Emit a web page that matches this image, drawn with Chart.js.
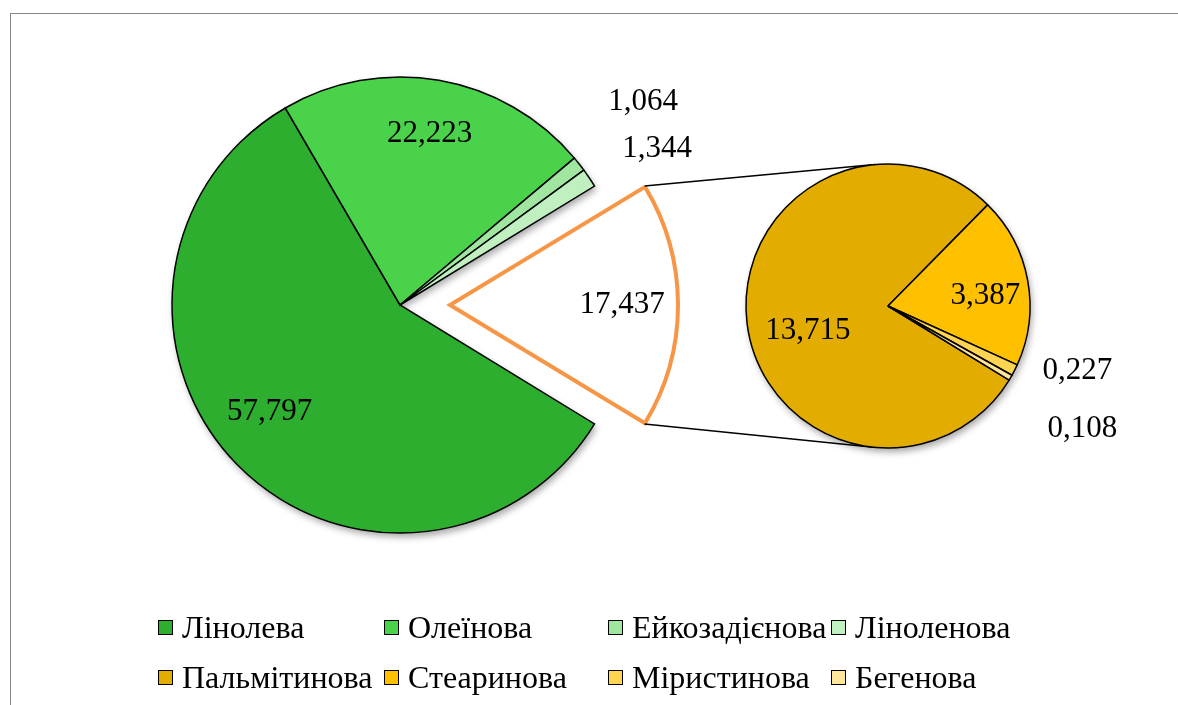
<!DOCTYPE html>
<html>
<head>
<meta charset="utf-8">
<script src="https://cdn.jsdelivr.net/npm/chart.js@4/dist/chart.umd.min.js"></script>
<style>
html, body { margin: 0; padding: 0; background: #fff; }
#wrap { position: relative; width: 1178px; height: 705px; overflow: hidden; }
#frame { position: absolute; left: 10px; top: 13px; width: 1220px; height: 740px; border: 1px solid #868686; }
#wrap canvas { position: absolute; left: 0; top: 0; }
#legend { position: absolute; left: 158px; top: 609px; display: grid;
  grid-template-columns: 226px 224px 223px 224px; row-gap: 14px;
  font-family: "Liberation Serif", "Times New Roman", serif; font-size: 32px; color: #000; }
.item { display: flex; align-items: center; height: 36px; white-space: nowrap; }
.box { width: 13px; height: 13px; border: 1.5px solid #000; margin-right: 9px; flex: none; }
</style>
</head>
<body>
<div id="wrap">
  <div id="frame"></div>
  <canvas id="mainPie" width="1178" height="705"></canvas>
  <canvas id="subPie" width="1178" height="705"></canvas>
  <div id="legend"></div>
</div>
<script>
// головна діаграма (жирні кислоти, %)
const mainLabels = ['Лінолева', 'Олеїнова', 'Ейкозадієнова', 'Ліноленова'];
const mainValues = [57.797, 22.223, 1.064, 1.344];
const otherLabel = 'Насичені';
const otherValue = 17.437;
// вторинна діаграма (розклад "інших")
const subLabels = ['Пальмітинова', 'Стеаринова', 'Міристинова', 'Бегенова'];
const subValues = [13.715, 3.387, 0.227, 0.108];

const mainColors = ['#2eae2e', '#4bd24b', '#a0e6a0', '#c0f0c0'];
const subColors = ['#e3ac00', '#ffc000', '#ffd450', '#ffe699'];
const otherBorder = '#f79646';
const explode = 200; // chart.js shifts arc by offset/4

// положення підписів: частка радіуса та поправка кута (град.)
const mainLabelDist = [0.74, 0.76, 1.39, 1.32, 0.755];
const mainLabelTurn = [5, 0, -1.7, 2.5, 0];
const subLabelDist = [0.59, 0.69, 1.41, 1.62];
const subLabelTurn = [-10, 4.7, -8, 2];

const serif = '"Liberation Serif", "Times New Roman", serif';
const total = mainValues.reduce((a, b) => a + b, 0) + otherValue;
const startRot = 90 + otherValue / total * 180;

function fmt(v) { return v.toFixed(3).replace('.', ','); }

// chart.js збільшує радіус винесеного сектора на offset/4 * (1 - sin(кут)); компенсуємо
function radiusGrow(arc) {
  return explode / 4 * (1 - Math.sin(Math.min(Math.PI, arc.circumference)));
}
const explodeFix = {
  id: 'explodeFix',
  afterDatasetsUpdate(chart) {
    const arc = chart.getDatasetMeta(0).data[mainValues.length];
    arc.outerRadius -= radiusGrow(arc);
  }
};

function labelPlugin(dist, turn) {
  return {
    id: 'valueLabels',
    afterDatasetsDraw(chart) {
      const ctx = chart.ctx;
      const ds = chart.data.datasets[0];
      const R = chart.getDatasetMeta(0).data[0].outerRadius;
      ctx.save();
      ctx.font = '31px ' + serif;
      ctx.fillStyle = '#000';
      ctx.textAlign = 'center';
      ctx.textBaseline = 'middle';
      chart.getDatasetMeta(0).data.forEach((arc, i) => {
        const mid = (arc.startAngle + arc.endAngle) / 2;
        const off = (Array.isArray(ds.offset) ? ds.offset[i] : 0) / 4;
        const cx = arc.x + Math.cos(mid) * off;
        const cy = arc.y + Math.sin(mid) * off;
        const a = mid + turn[i] * Math.PI / 180;
        const r = R * dist[i];
        ctx.fillText(fmt(ds.data[i]), cx + Math.cos(a) * r, cy + Math.sin(a) * r);
      });
      ctx.restore();
    }
  };
}

// тінь під секторами (крім винесеного)
const shadowPlugin = {
  id: 'shadow',
  beforeDatasetsDraw(chart) {
    const ctx = chart.ctx;
    const ds = chart.data.datasets[0];
    ctx.save();
    ctx.shadowColor = 'rgba(0,0,0,0.35)';
    ctx.shadowBlur = 7;
    ctx.shadowOffsetX = 2;
    ctx.shadowOffsetY = 4;
    chart.getDatasetMeta(0).data.forEach((arc, i) => {
      if (ds.backgroundColor[i] === '#ffffff') return;
      ctx.beginPath();
      ctx.moveTo(arc.x, arc.y);
      ctx.arc(arc.x, arc.y, arc.outerRadius, arc.startAngle, arc.endAngle);
      ctx.closePath();
      ctx.fillStyle = '#fff';
      ctx.fill();
    });
    ctx.restore();
  }
};

const mainChart = new Chart(document.getElementById('mainPie'), {
  type: 'pie',
  data: {
    labels: [...mainLabels, otherLabel],
    datasets: [{
      data: [...mainValues, otherValue],
      backgroundColor: [...mainColors, '#ffffff'],
      borderColor: ['#000', '#000', '#000', '#000', otherBorder],
      borderWidth: [1.5, 1.5, 1.5, 1.5, 4],
      borderJoinStyle: 'miter',
      offset: [0, 0, 0, 0, explode],
      hoverOffset: 0
    }]
  },
  options: {
    responsive: false,
    animation: false,
    events: [],
    devicePixelRatio: 1,
    rotation: startRot,
    radius: 228,
    layout: { padding: { left: 150, right: 528, top: 55, bottom: 150 } },
    plugins: { legend: { display: false }, tooltip: { enabled: false } }
  },
  plugins: [explodeFix, shadowPlugin, labelPlugin(mainLabelDist, mainLabelTurn)]
});

// лінії від винесеного сектора до вторинної діаграми (дотичні)
const connectorPlugin = {
  id: 'connectors',
  beforeDatasetsDraw(chart) {
    const src = mainChart.getDatasetMeta(0).data[mainValues.length];
    const mid = (src.startAngle + src.endAngle) / 2;
    const sx = src.x + Math.cos(mid) * explode / 4;
    const sy = src.y + Math.sin(mid) * explode / 4;
    const R = src.outerRadius + radiusGrow(src);
    const pts = [
      [sx + Math.cos(src.startAngle) * R, sy + Math.sin(src.startAngle) * R],
      [sx + Math.cos(src.endAngle) * R, sy + Math.sin(src.endAngle) * R]
    ];
    const t = chart.getDatasetMeta(0).data[0];
    const ctx = chart.ctx;
    ctx.save();
    ctx.strokeStyle = '#000';
    ctx.lineWidth = 1.5;
    pts.forEach((p, k) => {
      const dx = p[0] - t.x, dy = p[1] - t.y;
      const d = Math.hypot(dx, dy);
      const base = Math.atan2(dy, dx);
      const a = Math.acos(t.outerRadius / d);
      const c1 = base + a, c2 = base - a;
      const y1 = t.y + Math.sin(c1) * t.outerRadius;
      const y2 = t.y + Math.sin(c2) * t.outerRadius;
      const ang = (k === 0) === (y1 < y2) ? c1 : c2;
      ctx.beginPath();
      ctx.moveTo(p[0], p[1]);
      ctx.lineTo(t.x + Math.cos(ang) * t.outerRadius, t.y + Math.sin(ang) * t.outerRadius);
      ctx.stroke();
    });
    ctx.restore();
  }
};

new Chart(document.getElementById('subPie'), {
  type: 'pie',
  data: {
    labels: subLabels,
    datasets: [{
      data: subValues,
      backgroundColor: subColors,
      borderColor: '#000',
      borderWidth: 1.5,
      hoverOffset: 0
    }]
  },
  options: {
    responsive: false,
    animation: false,
    events: [],
    devicePixelRatio: 1,
    rotation: startRot,
    radius: 142,
    layout: { padding: { left: 738, right: 140, top: 156, bottom: 249 } },
    plugins: { legend: { display: false }, tooltip: { enabled: false } }
  },
  plugins: [connectorPlugin, shadowPlugin, labelPlugin(subLabelDist, subLabelTurn)]
});

// легенда: 4 стовпці, 2 рядки
const legend = document.getElementById('legend');
[...mainLabels, ...subLabels].forEach((name, i) => {
  const color = [...mainColors, ...subColors][i];
  const el = document.createElement('div');
  el.className = 'item';
  el.innerHTML = '<span class="box" style="background:' + color + '"></span>' + name;
  legend.appendChild(el);
});
</script>
</body>
</html>
